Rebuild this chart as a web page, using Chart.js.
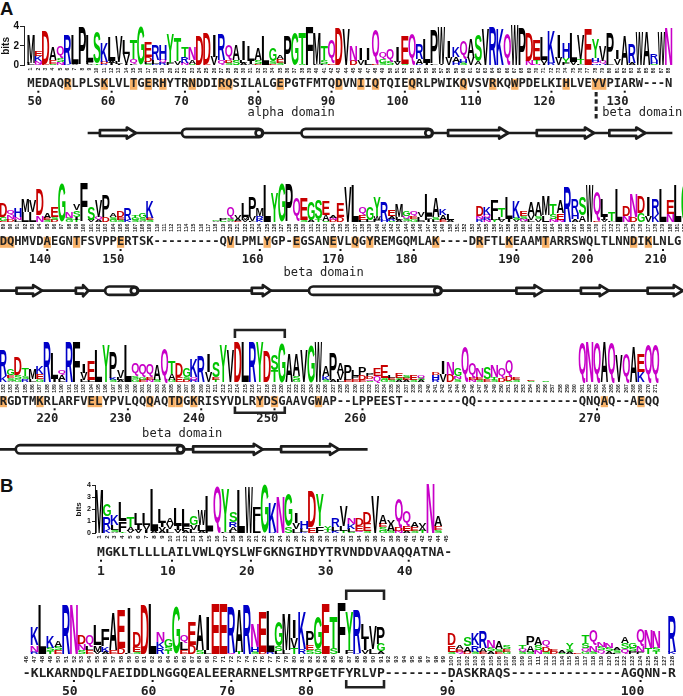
<!DOCTYPE html>
<html><head><meta charset="utf-8">
<style>html,body{margin:0;padding:0;background:#fff;width:683px;height:696px;overflow:hidden}canvas{position:absolute}
.tag{position:absolute;left:0;font:bold 18.5px "Liberation Sans";color:#111;line-height:18px}</style>
<script src="https://cdn.jsdelivr.net/npm/chart.js@4"></script>
</head><body>
<div class="tag" style="top:0px">A</div><div class="tag" style="top:477px">B</div>
<script>
// ---- DATA: logo stacks (top of stack first; letter + height in bits) ----
const logoA1=["M2.9 L.2 A.1","E.5 K.5 N.3 Q.2","D3.4 E.2","A1.3 E.4 S.2","Q1.1 S.4 N.3 D.1","R2.9 K.2","L2.9 V.2","P3.8 L.1","L2.7 F.2 V.2","S3.2 T.2","K1.9 D.2 R.2","L2.4 A.2 I.2 M.1","V2.6 L.2 I.2","L1.4 V1 I.2","T1.9 Q.5 L.2","G3.9 S.1","E1.5 D.5 L.2 S.2","R1.5 L.4 K.2","H1.5 Q.3 R.3","Y3 F.3","T2.4 V.4 I.1","T1 R.6 N.2 V.1","N1.3 A.4 S.2","D3","D3.1 E.2","I2.2 V.9","R2.6 Q.5 K.1","Q1.5 D.2 S.2 E.1","A1.6 S.5 T.1","I2 L.3 A.2 V.1","L1.6 I.3 A.2","A1.2 S.4 D.2","L3 I.1","G1.3 S.3 E.2","A.4 E.4 S.3","P2.9 L.1","G3.4","T3.2 S.2","F4","M3.1 L.2","T1.4 S.4 F.2","Q2.4 E.2","D3.8","V3.6","N1.5 D.5","I1.2 V.6","I1.2 L.6","Q3.3 D.2","Q.6 G.4 S.3","Q1.4 S.4","I1.5 V.4","E2.8 S.2","Q3.2","R1.5 A.5 K.2","L2.4 I.3","P3.4 L.2","W3.7 I.2","I1.7 V.8","K1 A.5 H.4","Q1.9 H.4 S.3","A2 V.8","S2.6 A.4","V3.6","R3.9","K3.7 R.1","Q3.2 H.1","W4","P3.9","D2.8 N.5","E2.1 T.4 N.2","L2.3 V.4 I.2","K3.3 R.3","I2.4 V.8","H1.6 Y.5 F.3","L3 V.4","V2.4 T.5 L.2","E3.7","Y1.9 H.4 Q.2 R.2","V1.5 Q.3 H.2","P3 L.2 S.1","I.9 V.7","A3","R1.9 A.3","W3.4","A3.4","R.6 H.4 S.2","W3.4","N3.9"];
const logoA2=["D1.5 G.4 E.1","Q.5 N.4 D.3","H1 N.3 L.2","M1.3 L1","V1.2 L1","D2.6 N.7","A.5 E.2 S.2","E1.1 S.3 D.2","G3.9","N.6 S.2 G.2","V.6 S.7 I.3 T.2","F4","S1.3 V.2","V1.7 Q.3 A.2","P2.3 D.5","A.4 S.3 G.2","D.6 E.3 S.2","R1.2 K.2","T.3 G.2 S.2","G.5 S.3 A.1","K1.7 E.2 S.2","","","","","","","","","G.15 A.1","P.2 S.1","Q1.2 S.2 A.1","V.4 A.2 E.1","L1.4 M.3 V.2","P2 V.5 L.1","M.8 R.4 K.2","L3.9","Y3","G3.9","P3.9","Q2.5","E2.3 S.2","G1.9 A.2","S2.1 T.3","E1.4 A.6 S.1","A.3 N.2 D.2","E1.5 D.5","V3.6","L3.8","Q.8 E.5 L.2","G1.4 L.2","Y2 W.4 F.2","R1.9 H.2","E.6 A.3 R.2 S.1","M1.4 L.3 A.2","G.5 Q.3 S.2 A.1","Q.5 E.3 G.3","V.5 L.4 M.1","L2.3 F.4 I.2","A2 S.3 L.2","K.6 A.5 E.2","L.7 A.2","","","","D1 N.3 R.3","K.8 Q.3 R.2 N.2","F1.7 L.3 Y.2","T1 L.3 V.2","L2.2 I.3","K1.8 S.2 V.2","E.5 S.3 N.2 V.1","A1.4 V.5 L.2","A1.5 S.3 V.3","M2 L.7","T1.1 S.5 N.3","A1.4 E.7 N.2","R3.6","R1.4 H.6 A.3","S1.9 A.7","W3.9","Q3 E.1","L1.9 I.3 V.2","T.9 L.1","L3.5","D1 N.6","N2.4 D.5","D1.7 G.9","I2 V.6","R1.6 K.8","L3.4","E1.5 N.8","L3.8","G4"];
const logoA3=["R2.5 K.6","G.6 E.3 S.3 A.1","D1.8 S.4 G.3","T.7 S.3 R.3","M1 L.3","K.7 E.5 G.3","R3.9","L2.5 I.3","Q.5 A.5 L.2","R3.9","F4","I.9 V.7 L.2","E1.9 L.2","L3.2","Y3.7","P2.5 K.2 S.2","V.8 L.2 A.2","L3.6","Q1.3 S.3 G.3","Q1.3 G.3 E.2","Q1.3 E.3 N.2","A1.5 S.2","Q3.3","T1.3 A.6 G.2","D1.4 E.5","G.9 S.3 D.2","K1.8 Q.3 R.2","R2.5","I1.8 V1","S1.6 E.3 T.2","Y3.7","V3.2","D3.9","L3.9","R3.9","Y3.9","D3","S1.5 T1.2","G3.9","A2.8","A2.2 S.4 G.2","V3.1","G3.6","W3.9","A1 K.4 S.2","P2.7 A.2","A1 V.7 L.2","P1.2 L.3 E.2","L.6 P.3 E.3","P.8 D.5 E.2","P.3 D.3 Q.2 S.1","E.8 Q.6","E1.3 S.2 G.2","L.2 E.2 S.2","E.5 S.2 A.2","S.3 E.2 A.2","E.5 S.2","Q.3 S.2 A.2","","D.3 H.5 R.2","I1.3 V.8","N1.3 D.7","G.8 N.3 S.3","Q3.5","Q1.5 E.2 N.2","N.9 E.3 S.2","S1.1 E.3","N1.1 T.3 S.2","Q.9 D.4","Q1.6 D.5 S.1","E.3 S.2","","E.15 S.1","","S.1","","","","","Q3.9","N3.9","Q3.9","A3.9","Q3.9","V2.6","Q2.7","A3.4","E1.8 K1","Q3.7","Q3.7"];
const logoB1=["M3.7","G1 R1 K.4","K.9 L.4 S.2 A.1","L1.6 F.9 T.1","T.9 A.3 V.2","L1 I.4 V.3","L1 V.4 I.3","L3.5 A.2","L1.2 I.4 V.3 A.2","A.5 V.4 L.4","L1.5 I.3 V.3","L1.4 F.4 A.2","G.8 V.4 L.3","W1.3 L.5 A.2","L2.9 F.2","Q3.9","Y3.6 F.1","S.9 R.4 A.3 L.2","L3.7","W3.9","F1.2 L1","G4.1","K2.5 R.1","N3.1","G2.7 S.6","I.9 V.5 L.4","H.6 L.3 K.1","D3 E.5","Y2.7 F.6","Y.3 T.2 V.1","R.7 L.3 K.2","V1.7 L.4 T.2","N.5 K.4 L.3 S.1","D.6 E.4 Q.2","D.9 E.6 S.2","V3.1","A.8 E.3 S.3 G.2","V.3 A.6 S.2","Q2.4 D.3 N.2","Q1.3 E.4 A.2","A.4 E.3 S.2","V.3 A.3 T.2","N4.1","A.9 E.3 S.3",""];
const logoB2=["","K1.5 N.5 R.2","L4","K.9 S.3 T.2","A.5 S.3 E.3","R4","N4","D.7 N.5 S.3","Q.9 L.3 E.3","L1.7 M.5 V.2","F1.4 K.4 A.2","A3 E.3","E3.1 D.5","I3.7 L.1","D1.2 E.4 S.2","D3.9","L4.1","N.8 K.5 R.5","G.6 S.3 T.3","G3.9","Q.6 L.6 E.3","E1.9 D.7","A2.8 S.3","I2.7 L.3","E4.1","E4.1","R3.7 Q.1","A3.5 T.2","R4","N1.9 H.4 S.2","E3.2 D.2","L3.3 R.2","G2 S.4 L.2","M2.9 L.3","I1.5 V.8 T.5","K3 R.4","P1.2 E.4 S.3","G2.7 S.4","E4.1","T2.5 S.5","F4.1","Y3.1 F.3","R3.5 K.1","L1.2 I.9 V.3","V1.9 L.4","P1.4 G.6 A.2","","","","","","","","","D.9 E.5 S.2","A.3 E.2 Q.2","S.7 A.4 D.2","K.9 R.5 S.2","R1.3 A.3 E.2","N.6 S.3 A.2","A.6 S.2 E.2","S.3 E.2 G.2","","T.3 Q.2 S.2","P.7 A.5 S.2","A.6 S.4 N.3","Q.5 D.4 S.2","E.2 D.2","A.2 S.1","Y.5 S.2 A.2","E.1","T.6 S.4 Q.3 G.2","Q1.2 N.5 S.2","N.4 S.3 Q.3","N.4 S.3 A.2","A.2 S.2 L.1","A.5 S.5 Q.4","G.4 S.3 P.2","Q1.3 N.5 P.2","N1.5 T.5","N1.4 S.3 T.2","","R2.9 K.2"];
// consensus sequences
const consensusA1="MEDAQRLPLSKLVLTGERHYTRNDDIRQSILALGEPGTFMTQDVNIIQTQIEQRLPWIKQVSVRKQWPDELKIHLVEYVPIARW---N";
const consensusA2="DQHMVDAEGNTFSVPPERTSK---------QVLPMLYGP-EGSANEVLQGYREMGQMLAK----DRFTLKEAAMTARRSWQLTLNNDIKLNLG";
const consensusA3="RGDTMKRLARFVELYPVLQQQAQTDGKRISYVDLRYDSGAAVGWAP--LPPEEST--------QQ--------------QNQAQ--AEQQ";
const consensusB1="MGKLTLLLLAILVWLQYSLWFGKNGIHDYTRVNDDVAAQQATNA-";
const consensusB2="-KLKARNDQLFAEIDDLNGGQEALEERARNELSMTRPGETFYRLVP--------DASKRAQS--------------AGQNN-R";
// first logo position of each row
const firstA1=1, firstA2=89, firstA3=182, firstB1=1, firstB2=46;
// highlighted logo positions
const hiA1=[6,11,15,17,19,23,27,28,35,43,46,48,53,60,64,67,74,78,79];
const hiA2=[89,90,95,99,105,120,125,129,134,137,139,148,154,158,163,175,177];
const hiA3=[182,187,194,195,202,205,206,208,217,219,225,264,269];
// residue numbers: [label, logo position]
const resA1=[[50,2],[60,12],[70,22],[80,32],[90,42],[100,52],[110,62],[120,72],[130,82]];
const resA2=[[140,95],[150,105],[160,124],[170,135],[180,145],[190,159],[200,169],[210,179]];
const resA3=[[220,189],[230,199],[240,209],[250,219],[260,231],[270,263]];
const resB1=[[1,1],[10,10],[20,20],[30,30],[40,40]];
const resB2=[[50,52],[60,62],[70,72],[80,82],[90,100],[100,124]];
// secondary structure: [kind, start, end] in logo positions
const ssA1=[["s",10.4,15.3],["h",21.6,32.65],["h",37.9,55.8],["s",57.9,66.1],["s",70,77.8],["s",79.9,84.8]];
const ssA2=[["s",90.8,94.3],["s",98.9,100.6],["h",102.9,107.4],["s",122.9,125.5],["h",130.7,148.8],["s",159,162.7],["s",167.8,171.6],["s",176.9,181.7]];
const ssA3=[["h",183.7,206.7],["s",207.9,217.4],["s",219.9,227.8]];
// domain labels: [text, centre position]
const domA1=[["alpha domain",36.5],["beta domain",84.4]];
const domA2=[["beta domain",132.7]];
const domA3=[["beta domain",206.4]];
const bitTicks=[0,1,2,3,4];

// ---- LOGO COLOURS ----
const colour=l=>"GSTYC".includes(l)?"#00c400":"NQ".includes(l)?"#c800c8":"KRH".includes(l)?"#0000c8":"DE".includes(l)?"#c80000":"#000";
const LOGO_FONT='bold 100px "Liberation Sans"', MONO='"DejaVu Sans Mono"';

function parseStack(s){return s?s.trim().split(/\s+/).map(t=>({l:t[0],h:parseFloat(t.slice(1))})).reverse():[];}

function drawLetter(ctx,l,x,w,yTop,yBase){
  const h=yBase-yTop; if(h<=0.05)return;
  ctx.font=LOGO_FONT; ctx.textAlign="left"; ctx.textBaseline="alphabetic"; ctx.fillStyle=colour(l);
  const m=ctx.measureText(l), L=m.actualBoundingBoxLeft,R=m.actualBoundingBoxRight,A=m.actualBoundingBoxAscent,D=m.actualBoundingBoxDescent;
  const ww=(l==="I"?w*.36:w*1.0);
  ctx.save(); ctx.translate(x-ww/2,yBase); ctx.scale(ww/(L+R),h/(A+D)); ctx.fillText(l,L,-D); ctx.restore();
}
function strand(ctx,x1,x2,y){
  const hl=Math.min(9,(x2-x1)*.42);
  ctx.beginPath(); ctx.moveTo(x1,y-2.9); ctx.lineTo(x2-hl,y-2.9); ctx.lineTo(x2-hl,y-5.5); ctx.lineTo(x2,y); ctx.lineTo(x2-hl,y+5.5); ctx.lineTo(x2-hl,y+2.9); ctx.lineTo(x1,y+2.9); ctx.closePath();
  ctx.fillStyle="#fff"; ctx.fill(); ctx.stroke();
}
function helix(ctx,x1,x2,y){
  ctx.beginPath(); ctx.roundRect(x1,y-4.2,x2-x1,8.4,4.2); ctx.fillStyle="#fff"; ctx.fill(); ctx.stroke();
  ctx.beginPath(); ctx.arc(x2-4,y,3.4,0,Math.PI*2); ctx.fill(); ctx.stroke();
}

function makeRow(r){
  const cl=r.cl||0, W=683-cl;
  const cv=document.createElement("canvas"); cv.width=W; cv.height=r.bottom-r.top; cv.style.top=r.top+"px"; cv.style.left=cl+"px"; document.body.appendChild(cv);
  const positions=r.logo.map((_,i)=>r.first+i), stacks=r.logo.map(parseStack);
  const n=Math.max(...stacks.map(s=>s.length));
  const datasets=[],letters=[];
  for(let k=0;k<n;k++){
    datasets.push({data:positions.map((p,i)=>({x:p,y:stacks[i][k]?stacks[i][k].h:0})),backgroundColor:"transparent",borderWidth:0,barPercentage:1,categoryPercentage:1});
    letters.push(stacks.map(s=>s[k]?s[k].l:""));
  }
  const axisW=r.axis?r.axisX-cl:0, x0=r.x0-cl, Y=v=>v-r.top;
  const plugin={id:"logo",
    beforeDatasetsDraw(c){
      const x=c.scales.x,ctx=c.ctx; ctx.save();
      ctx.fillStyle="#f9b268";
      (r.hi||[]).forEach(p=>{ctx.fillRect(x.getPixelForValue(p-.5),Y(r.conY-5.5),x.getPixelForValue(1)-x.getPixelForValue(0),11);});
      ctx.fillStyle="#222"; ctx.textBaseline="middle"; ctx.textAlign="center";
      ctx.font="bold "+r.conFont+"px "+MONO; 
      [...r.seq].forEach((ch,i)=>ctx.fillText(ch,x.getPixelForValue(r.first+i)+r.conDx,Y(r.conY)));
      ctx.font="bold "+r.numFont+"px "+MONO; ctx.textAlign="right";
      r.res.forEach(([v,p])=>{const px=x.getPixelForValue(p)+r.conDx; ctx.fillStyle="#111"; ctx.fillRect(px-1,Y(r.dotY)-1,2,2); ctx.fillStyle="#222"; ctx.fillText(String(v),px+3.8,Y(r.numY));});
      ctx.textAlign="center"; ctx.font='12.1px '+MONO;
      (r.dom||[]).forEach(([t,p])=>ctx.fillText(t,x.getPixelForValue(p),Y(r.domY)));
      if(r.ss){
        ctx.strokeStyle="#1c1c1c"; ctx.lineWidth=2.7; ctx.lineJoin="round";
        const y=Y(r.ssY);
        ctx.beginPath(); ctx.moveTo(x.getPixelForValue(r.ssLine[0]),y); ctx.lineTo(x.getPixelForValue(r.ssLine[1]),y); ctx.stroke();
        r.ss.forEach(([k,a,b])=>{(k==="s"?strand:helix)(ctx,x.getPixelForValue(a),x.getPixelForValue(b),y);});
      }
      ctx.strokeStyle="#222"; ctx.lineWidth=2.6; ctx.lineJoin="miter";
      (r.brackets||[]).forEach(([a,b,y1,y2])=>{
        const xa=x.getPixelForValue(a),xb=x.getPixelForValue(b);
        ctx.beginPath(); ctx.moveTo(xa,Y(y2)); ctx.lineTo(xa,Y(y1)); ctx.lineTo(xb,Y(y1)); ctx.lineTo(xb,Y(y2)); ctx.stroke();
      });
      if(r.dash){
        ctx.setLineDash([4.5,2.8]); ctx.lineWidth=3; ctx.beginPath();
        ctx.moveTo(x.getPixelForValue(r.dash[0]),Y(r.dash[1])); ctx.lineTo(x.getPixelForValue(r.dash[0]),Y(r.dash[2])); ctx.stroke(); ctx.setLineDash([]);
      }
      ctx.restore();
    },
    afterDatasetsDraw(c){
      const ctx=c.ctx;
      c.data.datasets.forEach((d,k)=>{
        c.getDatasetMeta(k).data.forEach((el,i)=>{
          const l=letters[k][i]; if(!l)return;
          const p=el.getProps(["x","y","base","width"],true);
          drawLetter(ctx,l,p.x,p.width,p.y,p.base);
        });
      });
    }
  };
  new Chart(cv,{type:"bar",data:{datasets},plugins:[plugin],options:{
    responsive:false,animation:false,events:[],
    layout:{padding:{top:r.base-4*r.ppb-r.top,left:0,right:0,bottom:0}},
    plugins:{legend:{display:false},tooltip:{enabled:false},title:{display:false}},
    scales:{
      x:{type:"linear",stacked:true,offset:false,
        min:r.first+(axisW-x0)/r.dx,max:r.first+(W-x0)/r.dx,
        grid:{display:false,drawTicks:false},border:{display:false},
        afterBuildTicks:s=>{s.ticks=positions.map(v=>({value:v}));},
        afterFit:s=>{s.height=r.bottom-r.base;s.paddingLeft=0;s.paddingRight=0;},
        ticks:{autoSkip:false,minRotation:90,maxRotation:90,padding:r.tickPad,color:"#222",font:{family:"Liberation Sans",size:r.tickFont,weight:"bold"},callback:v=>String(v)}},
      y:{type:"linear",stacked:true,min:0,max:4,display:!!r.axis,
        grid:{display:true,drawOnChartArea:false,drawTicks:true,tickLength:r.tickLen||4,color:"#222"},
        border:{display:true,color:"#222",width:1},
        afterBuildTicks:s=>{s.ticks=bitTicks.map(v=>({value:v}));},
        afterFit:s=>{s.width=axisW;s.paddingTop=0;s.paddingBottom=0;},
        title:{display:!!r.axis,text:"bits",color:"#111",padding:0,font:{family:"Liberation Sans",size:r.bitsFont||9,weight:"bold"}},
        ticks:{padding:1,color:"#111",font:{family:"Liberation Sans",size:r.yFont||10,weight:"bold"},callback:v=>String(v)}}
    }}});
}
makeRow({logo:logoA1,seq:consensusA1,first:firstA1,hi:hiA1,res:resA1,ss:ssA1,ssLine:[8.73,88.5],ssY:133,dom:domA1,domY:113,dash:[78.1,92,120],
  top:16,bottom:150,base:65.7,ppb:9.9,x0:31,dx:7.33,axis:true,axisX:24,conY:84.3,dotY:91.7,numY:102,conFont:12.2,numFont:12.2,conDx:0,tickFont:5,tickPad:2,bitsFont:10,yFont:10});
makeRow({logo:logoA2,seq:consensusA2,first:firstA2,hi:hiA2,res:resA2,ss:ssA2,ssLine:[88,182],ssY:290.7,dom:domA2,domY:273.3,
  top:165,bottom:305,base:221.7,ppb:9.6,x0:3.3,dx:7.33,conY:242.3,dotY:250,numY:260.3,conFont:12.2,numFont:12.2,conDx:0,tickFont:5,tickPad:2});
makeRow({logo:logoA3,seq:consensusA3,first:firstA3,hi:hiA3,res:resA3,ss:ssA3,ssLine:[181,231.7],ssY:449.3,dom:domA3,domY:433.7,
  brackets:[[213.6,220.4,330,338],[213.6,220.4,412.7,406.5]],
  top:325,bottom:465,base:382.3,ppb:10.15,x0:3.3,dx:7.33,conY:401.7,dotY:409.3,numY:419,conFont:12.2,numFont:12.2,conDx:0,tickFont:5,tickPad:2});
makeRow({logo:logoB1,seq:consensusB1,first:firstB1,res:resB1,cl:74,
  top:472,bottom:580,base:533.3,ppb:12,x0:99,dx:7.89,axis:true,axisX:95,conY:552.7,dotY:560.7,numY:571.7,conFont:13.1,numFont:13.1,conDx:2,tickFont:6,tickPad:2,bitsFont:8,yFont:7,tickLen:3});
makeRow({logo:logoB2,seq:consensusB2,first:firstB2,res:resB2,brackets:[[86.6,91.4,590.7,600],[86.6,91.4,687.3,680]],
  top:585,bottom:696,base:654,ppb:12.3,x0:26.7,dx:7.87,conY:674,dotY:681,numY:692,conFont:13.1,numFont:13.1,conDx:0,tickFont:6,tickPad:2});
</script>
</body></html>
